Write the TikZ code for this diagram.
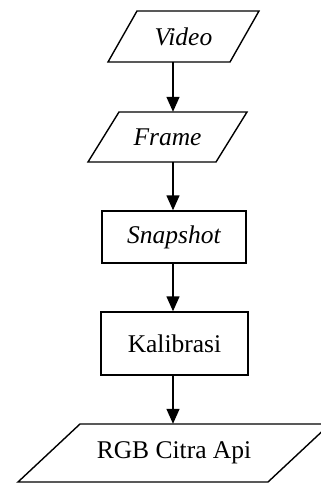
\documentclass[tikz,border=0pt]{standalone}
\usepackage{fontspec}
\setmainfont{Liberation Serif}
\usetikzlibrary{arrows.meta}
\begin{document}
\begin{tikzpicture}[x=1pt,y=-1pt,
  outline/.style={draw=black,line width=1.4pt,line join=miter},
  lbl/.style={inner sep=0pt,font=\fontsize{25.5}{30}\selectfont},
  arr/.style={line width=1.4pt,-{Triangle[length=15pt,width=13pt]}}]
\useasboundingbox (0,0) rectangle (321,483);
\clip (0,0) rectangle (321,483);
\coordinate (col) at (173,0);
% Video
\draw[outline] (137,11) -- (259,11) -- (230,62) -- (108,62) -- cycle;
\node[lbl,minimum height=51pt] (v) at (183.5,36.5) {\itshape Video};
% Frame
\draw[outline] (119,112) -- (247,112) -- (216,162) -- (88,162) -- cycle;
\node[lbl,minimum height=50pt] (f) at (167.5,137) {\itshape Frame};
% Snapshot
\node[lbl,outline,minimum width=144pt,minimum height=52pt] (s) at (174,237) {\itshape Snapshot};
% Kalibrasi
\node[lbl,outline,minimum width=147pt,minimum height=63pt] (k) at (174.5,343.5) {Kalibrasi};
% RGB Citra Api
\draw[outline] (80,424) -- (330,424) -- (268,482) -- (18,482) -- cycle;
\node[lbl,minimum height=58pt] (r) at (174,453) {RGB Citra Api};
% arrows
\draw[arr] (v.south -| col) -- (f.north -| col);
\draw[arr] (f.south -| col) -- (s.north -| col);
\draw[arr] (s.south -| col) -- (k.north -| col);
\draw[arr] (k.south -| col) -- (r.north -| col);
\end{tikzpicture}
\end{document}
